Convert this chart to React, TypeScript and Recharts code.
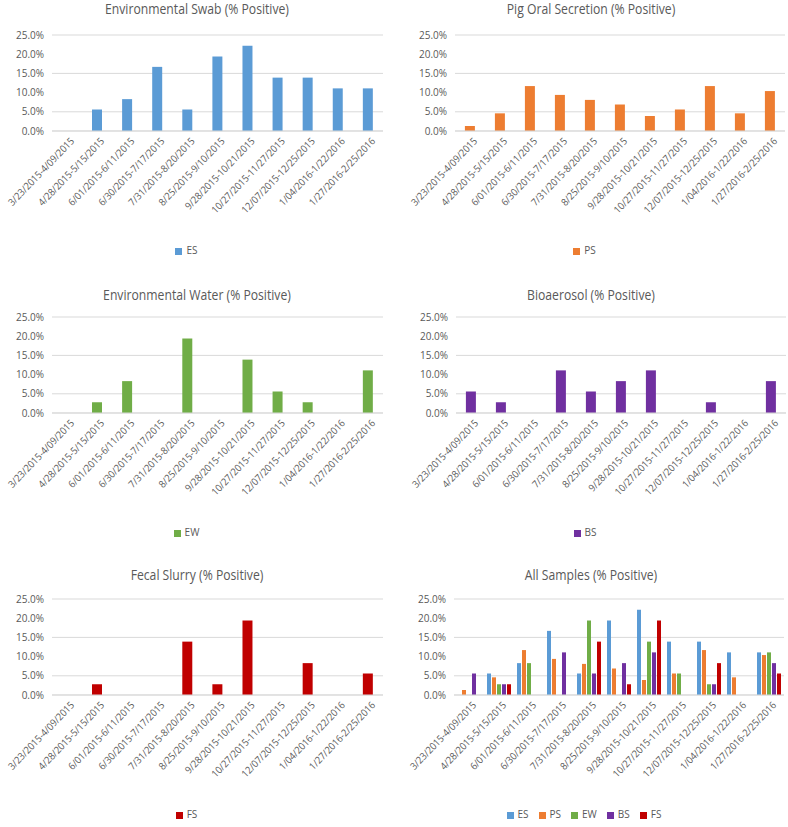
import { Bar, BarChart, CartesianGrid, Legend, XAxis, YAxis } from "recharts";

const periods = [
  "3/23/2015-4/09/2015",
  "4/28/2015-5/15/2015",
  "6/01/2015-6/11/2015",
  "6/30/2015-7/17/2015",
  "7/31/2015-8/20/2015",
  "8/25/2015-9/10/2015",
  "9/28/2015-10/21/2015",
  "10/27/2015-11/27/2015",
  "12/07/2015-12/25/2015",
  "1/04/2016-1/22/2016",
  "1/27/2016-2/25/2016",
];

const es = [0, 5.6, 8.3, 16.7, 5.6, 19.4, 22.2, 13.9, 13.9, 11.1, 11.1];
const ps = [1.3, 4.6, 11.7, 9.4, 8.1, 6.9, 3.9, 5.6, 11.7, 4.6, 10.4];
const ew = [0, 2.8, 8.3, 0, 19.4, 0, 13.9, 5.6, 2.8, 0, 11.1];
const bs = [5.6, 2.8, 0, 11.1, 5.6, 8.3, 11.1, 0, 2.8, 0, 8.3];
const fs = [0, 2.8, 0, 0, 13.9, 2.8, 19.4, 0, 8.3, 0, 5.6];

const seriesOrder = ["ES", "PS", "EW", "BS", "FS"];
const yTicks = [0, 5, 10, 15, 20, 25];

const rows = periods.map((p, i) => ({
  period: p,
  ES: es[i],
  PS: ps[i],
  EW: ew[i],
  BS: bs[i],
  FS: fs[i],
}));

const colors: Record<string, string> = {
  ES: "#5b9bd5",
  PS: "#ed7d31",
  EW: "#70ad47",
  BS: "#7030a0",
  FS: "#c00000",
};

const FONT = "'Open Sans', sans-serif";
const TXT = "#595959";

function SlantTick(props: any) {
  const { x, y, payload } = props;
  return (
    <g transform={`translate(${x + 5},${y})`}>
      <text transform="rotate(-46) scale(0.92 1)" textAnchor="end" fontSize={10} fill={TXT} fontFamily={FONT} dy={4}>
        {payload.value}
      </text>
    </g>
  );
}

type PanelProps = {
  title: string;
  keys: string[];
  left: number;
  top: number;
  yWidth: number;
  rightGap: number;
  titleTop: number;
  catGap: string;
};

function Panel({ title, keys, left, top, yWidth, rightGap, titleTop, catGap }: PanelProps) {
  return (
    <div style={{ position: "absolute", left, top, width: 394, height: 282 }}>
      <div
        style={{
          position: "absolute",
          top: titleTop,
          left: 0,
          width: 394,
          textAlign: "center",
          fontFamily: FONT,
          fontSize: 14,
          color: TXT,
          lineHeight: "18px",
          transform: "scaleX(0.87)",
          transformOrigin: "197px 0",
        }}
      >
        {title}
      </div>
      <BarChart
        width={394}
        height={282}
        data={rows}
        margin={{ top: 35, right: rightGap, bottom: 19, left: 0 }}
        barCategoryGap={catGap}
        barGap={1}
      >
        <CartesianGrid vertical={false} stroke="#d9d9d9" />
        <XAxis
          dataKey="period"
          interval={0}
          height={112}
          tick={<SlantTick />}
          tickLine={false}
          axisLine={{ stroke: "#d9d9d9" }}
        />
        <YAxis
          width={yWidth}
          domain={[0, 25]}
          ticks={yTicks}
          tickFormatter={(v: number) => `${v.toFixed(1)}%`}
          tick={{ fontSize: 10, fill: TXT, fontFamily: FONT }}
          tickLine={false}
          axisLine={false}
        />
        <Legend
          height={20}
          iconType="square"
          iconSize={7}
          itemSorter={(item: any) => seriesOrder.indexOf(item.value)}
          wrapperStyle={{ fontSize: 10, fontFamily: FONT, color: TXT }}
          formatter={(value: string) => <span style={{ color: TXT }}>{value}</span>}
        />
        {keys.map((k) => (
          <Bar key={k} dataKey={k} fill={colors[k]} isAnimationActive={false} />
        ))}
      </BarChart>
    </div>
  );
}

export default function App() {
  return (
    <div style={{ position: "absolute", left: 0, top: 0, width: 788, height: 827, background: "#fff", overflow: "hidden" }}>
      <Panel title="Environmental Swab (% Positive)" keys={["ES"]} left={0} top={0} yWidth={52} rightGap={11} titleTop={0} catGap="33%" />
      <Panel title="Pig Oral Secretion (% Positive)" keys={["PS"]} left={394} top={0} yWidth={61} rightGap={3} titleTop={0} catGap="33%" />
      <Panel title="Environmental Water (% Positive)" keys={["EW"]} left={0} top={282} yWidth={52} rightGap={11} titleTop={4} catGap="33%" />
      <Panel title="Bioaerosol (% Positive)" keys={["BS"]} left={394} top={282} yWidth={62} rightGap={2} titleTop={4} catGap="33%" />
      <Panel title="Fecal Slurry (% Positive)" keys={["FS"]} left={0} top={564} yWidth={52} rightGap={11} titleTop={2} catGap="33%" />
      <Panel
        title="All Samples (% Positive)"
        keys={seriesOrder}
        left={394}
        top={564}
        yWidth={60}
        rightGap={4}
        titleTop={2}
        catGap="10%"
      />
    </div>
  );
}
